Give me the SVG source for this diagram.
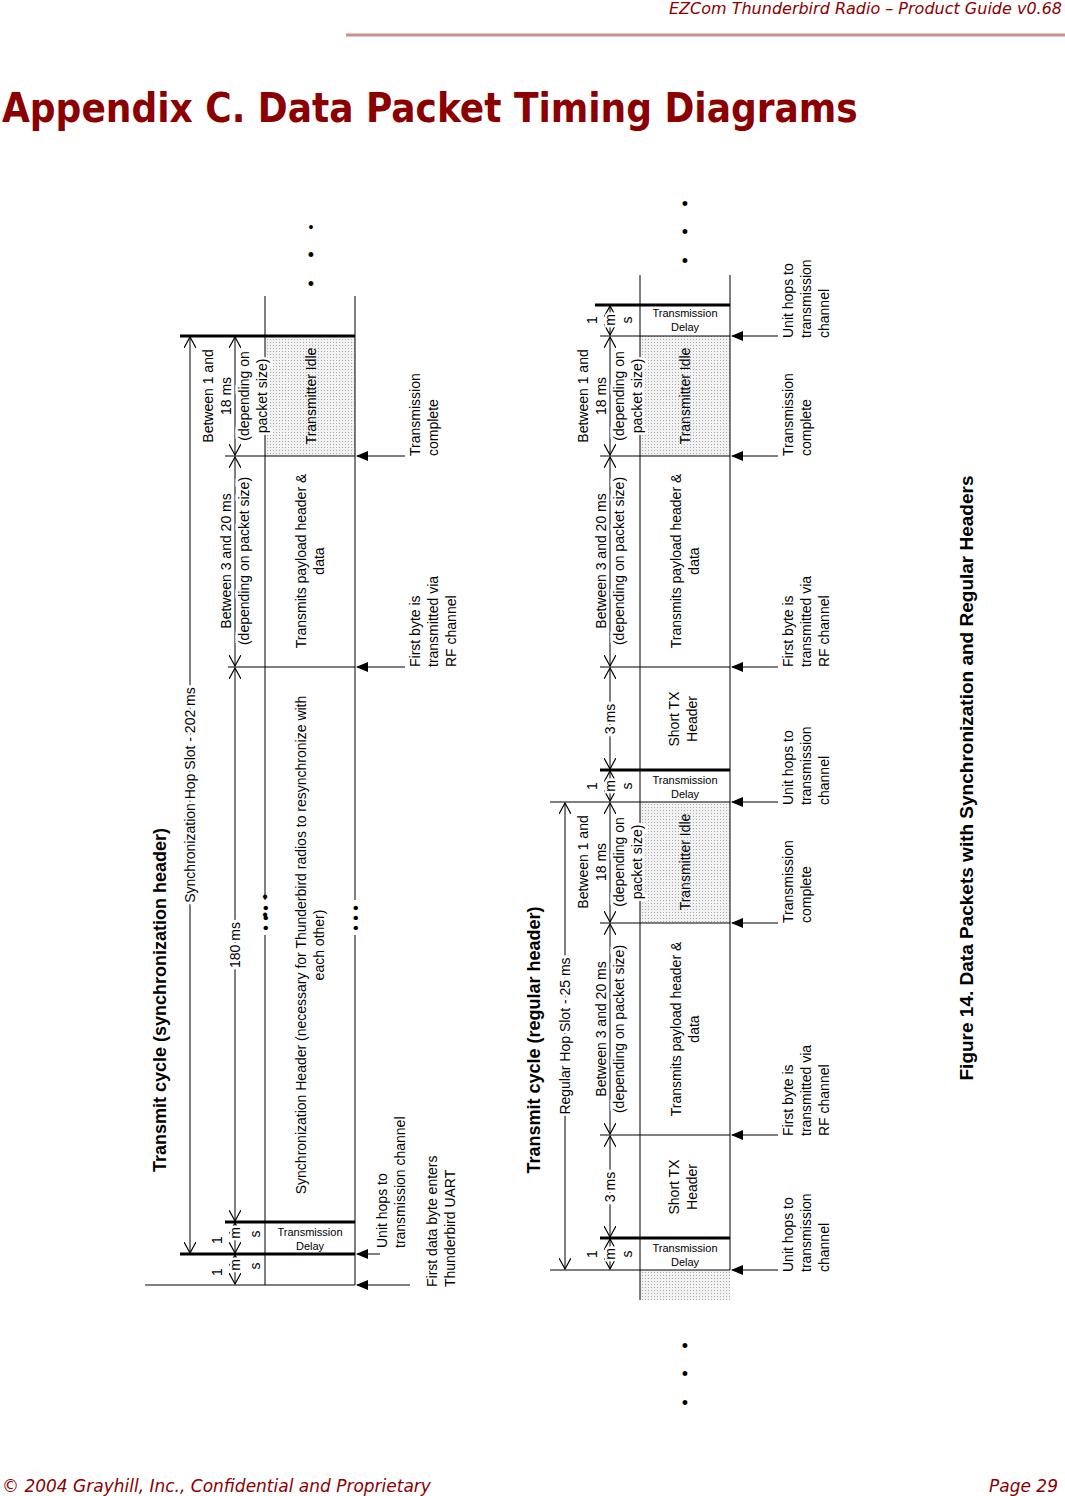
<svg xmlns="http://www.w3.org/2000/svg" width="1065" height="1496" viewBox="0 0 1065 1496">
<defs>
<marker id="oa" viewBox="0 0 12 12" refX="11" refY="6" markerWidth="12" markerHeight="12" markerUnits="userSpaceOnUse" orient="auto-start-reverse"><path d="M0,0 L11,6 L0,12" fill="none" stroke="#000" stroke-width="1.2"/></marker>
<marker id="fa" viewBox="0 0 12 10" refX="11" refY="5" markerWidth="12" markerHeight="10" markerUnits="userSpaceOnUse" orient="auto"><path d="M0,0 L12,5 L0,10 Z" fill="#000"/></marker>
<pattern id="dots" width="3" height="3" patternUnits="userSpaceOnUse"><rect width="3" height="3" fill="#f2f2f2"/><rect width="1" height="1" fill="#aaa"/></pattern>
</defs>
<style>
text{font-family:"Liberation Sans",Arial,sans-serif;fill:#000}
.t{font-size:14px}
.s{font-size:11px}
.w{paint-order:stroke;stroke:#fff;stroke-width:5px}
.ln{stroke:#000;stroke-width:1;fill:none}
.th{stroke:#000;stroke-width:3;fill:none}
.d{stroke:#000;stroke-width:1;marker-start:url(#oa);marker-end:url(#oa)}
.ar{stroke:#000;stroke-width:1;marker-end:url(#fa)}
.hd{font-family:"DejaVu Sans",sans-serif;fill:#8b0000}
</style>
<rect width="1065" height="1496" fill="#fff"/>
<g id="header">
<text class="hd" x="1062" y="14" font-size="16" font-style="italic" text-anchor="end">EZCom Thunderbird Radio – Product Guide v0.68</text>
<line x1="346" y1="35" x2="1065" y2="35" stroke="#c89090" stroke-width="3"/>
<text class="hd" x="2" y="122" font-size="40" font-weight="bold" font-family="'DejaVu Sans Condensed',sans-serif" style="font-family:'DejaVu Sans Condensed','DejaVu Sans',sans-serif">Appendix C.   Data Packet Timing Diagrams</text>
</g>
<g id="footer">
<text class="hd" x="2" y="1492" font-size="17" font-style="italic">© 2004 Grayhill, Inc., Confidential and Proprietary</text>
<text class="hd" x="1058" y="1492" font-size="17" font-style="italic" text-anchor="end">Page 29</text>
</g>

<!-- LEFT DIAGRAM -->
<g id="left-boxes">
<rect x="265" y="336" width="90" height="120" fill="url(#dots)"/>
<line class="ln" x1="265" y1="296" x2="265" y2="900"/>
<line class="ln" x1="265" y1="935" x2="265" y2="1285"/>
<line class="ln" x1="355" y1="296" x2="355" y2="900"/>
<line class="ln" x1="355" y1="935" x2="355" y2="1285"/>
<line class="ln" x1="145" y1="1285" x2="355" y2="1285"/>
<line class="th" x1="180" y1="1254" x2="355" y2="1254"/>
<line class="th" x1="225" y1="1222" x2="355" y2="1222"/>
<line class="ln" x1="228" y1="667" x2="355" y2="667"/>
<line class="ln" x1="225" y1="456" x2="355" y2="456"/>
<line class="th" x1="180" y1="336" x2="355" y2="336"/>
<g font-size="16"><text x="265" y="920" text-anchor="middle">•</text><text x="265" y="902" text-anchor="middle" dy="0">•</text></g>
</g>
<g id="left-text">
<text x="167" y="1000" font-size="18" font-weight="bold" transform="rotate(-90 160 1000)" text-anchor="middle"><tspan x="160" y="1006">Transmit cycle (synchronization header)</tspan></text>
<text class="s" x="310" y="1236" text-anchor="middle">Transmission</text>
<text class="s" x="310" y="1250" text-anchor="middle">Delay</text>
<text class="t" text-anchor="middle" transform="translate(306,945) rotate(-90)"><tspan x="0" y="0">Synchronization Header (necessary for Thunderbird radios to resynchronize with</tspan><tspan x="0" y="18">each other)</tspan></text>
<text class="t" text-anchor="middle" transform="translate(306,561) rotate(-90)"><tspan x="0" y="0">Transmits payload header &amp;</tspan><tspan x="0" y="18">data</tspan></text>
<text class="t" text-anchor="middle" transform="translate(316,396) rotate(-90)">Transmitter Idle</text>
<text class="t" transform="translate(387,1248) rotate(-90)"><tspan x="0" y="0">Unit hops to</tspan><tspan x="0" y="18">transmission channel</tspan></text>
<text class="t" transform="translate(437,1287) rotate(-90)"><tspan x="0" y="0">First data byte enters</tspan><tspan x="0" y="18">Thunderbird UART</tspan></text>
<text class="t" transform="translate(420,667) rotate(-90)"><tspan x="0" y="0">First byte is</tspan><tspan x="0" y="18">transmitted via</tspan><tspan x="0" y="36">RF channel</tspan></text>
<text class="t" transform="translate(420,456) rotate(-90)"><tspan x="0" y="0">Transmission</tspan><tspan x="0" y="18">complete</tspan></text>
<text class="t" x="311" y="232" font-size="18" text-anchor="middle">•</text>
<text x="311" y="261" font-size="18" text-anchor="middle">•</text>
<text x="311" y="290" font-size="18" text-anchor="middle">•</text>
<text x="265" y="924" font-size="16" text-anchor="middle" transform="rotate(-90 265 918)">• • •</text>
<text x="355" y="924" font-size="16" text-anchor="middle" transform="rotate(-90 355 918)">• • •</text>
</g>
<g id="left-dims">
<line class="d" x1="190" y1="337" x2="190" y2="1253"/>
<line class="d" x1="235" y1="1255" x2="235" y2="1284"/>
<line class="d" x1="235" y1="1223" x2="235" y2="1253"/>
<line class="d" x1="235" y1="668" x2="235" y2="1221"/>
<line class="d" x1="235" y1="457" x2="235" y2="666"/>
<line class="d" x1="235" y1="337" x2="235" y2="455"/>
<text class="t w" text-anchor="middle" transform="translate(195,795) rotate(-90)">Synchronization Hop Slot - 202 ms</text>
<text class="t w" text-anchor="middle" transform="translate(240,945) rotate(-90)">180 ms</text>
<text class="t w" text-anchor="middle" transform="translate(231,561) rotate(-90)"><tspan x="0" y="0">Between 3 and 20 ms</tspan><tspan x="0" y="18">(depending on packet size)</tspan></text>
<text class="t w" text-anchor="middle" transform="translate(213,396) rotate(-90)"><tspan x="0" y="0">Between 1 and</tspan><tspan x="0" y="18">18 ms</tspan><tspan x="0" y="36">(depending on</tspan><tspan x="0" y="54">packet size)</tspan></text>
<text class="t" x="217" y="1245" text-anchor="middle" transform="rotate(-90 217 1240)">1</text>
<text class="t" x="217" y="1277" text-anchor="middle" transform="rotate(-90 217 1272)">1</text>
<text class="t w" x="240" y="1243" text-anchor="middle" transform="rotate(-90 235 1238)">m</text>
<text class="t w" x="240" y="1275" text-anchor="middle" transform="rotate(-90 235 1270)">m</text>
<text class="t" x="259" y="1243" text-anchor="middle" transform="rotate(-90 255 1238)">s</text>
<text class="t" x="259" y="1275" text-anchor="middle" transform="rotate(-90 255 1270)">s</text>
</g>
<g id="left-connectors">
<line class="ar" x1="410" y1="1285" x2="357" y2="1285"/>
<line class="ar" x1="380" y1="1254" x2="357" y2="1254"/>
<line class="ar" x1="405" y1="667" x2="357" y2="667"/>
<line class="ar" x1="405" y1="456" x2="357" y2="456"/>
</g>

<!-- RIGHT DIAGRAM -->
<g id="right-boxes">
<rect x="640" y="336" width="90" height="120" fill="url(#dots)"/>
<rect x="640" y="802" width="90" height="121" fill="url(#dots)"/>
<rect x="640" y="1270" width="90" height="30" fill="url(#dots)"/>
<line class="ln" x1="640" y1="275" x2="640" y2="1300"/>
<line class="ln" x1="730" y1="275" x2="730" y2="1270"/>
<line class="ln" x1="550" y1="1270" x2="730" y2="1270"/>
<line class="th" x1="600" y1="1238" x2="730" y2="1238"/>
<line class="ln" x1="600" y1="1135" x2="730" y2="1135"/>
<line class="ln" x1="600" y1="923" x2="730" y2="923"/>
<line class="ln" x1="550" y1="802" x2="730" y2="802"/>
<line class="th" x1="600" y1="770" x2="730" y2="770"/>
<line class="ln" x1="600" y1="667" x2="730" y2="667"/>
<line class="ln" x1="600" y1="456" x2="730" y2="456"/>
<line class="ln" x1="600" y1="336" x2="730" y2="336"/>
<line class="th" x1="595" y1="305" x2="730" y2="305"/>
</g>
<g id="right-text">
<text font-size="18" font-weight="bold" text-anchor="middle" transform="translate(540,1040) rotate(-90)">Transmit cycle (regular header)</text>
<text class="s" x="685" y="1252" text-anchor="middle">Transmission</text>
<text class="s" x="685" y="1266" text-anchor="middle">Delay</text>
<text class="s" x="685" y="784" text-anchor="middle">Transmission</text>
<text class="s" x="685" y="798" text-anchor="middle">Delay</text>
<text class="s" x="685" y="317" text-anchor="middle">Transmission</text>
<text class="s" x="685" y="331" text-anchor="middle">Delay</text>
<text class="t" text-anchor="middle" transform="translate(679,1187) rotate(-90)"><tspan x="0" y="0">Short TX</tspan><tspan x="0" y="18">Header</tspan></text>
<text class="t" text-anchor="middle" transform="translate(679,719) rotate(-90)"><tspan x="0" y="0">Short TX</tspan><tspan x="0" y="18">Header</tspan></text>
<text class="t" text-anchor="middle" transform="translate(681,1029) rotate(-90)"><tspan x="0" y="0">Transmits payload header &amp;</tspan><tspan x="0" y="18">data</tspan></text>
<text class="t" text-anchor="middle" transform="translate(681,561) rotate(-90)"><tspan x="0" y="0">Transmits payload header &amp;</tspan><tspan x="0" y="18">data</tspan></text>
<text class="t" text-anchor="middle" transform="translate(690,862) rotate(-90)">Transmitter Idle</text>
<text class="t" text-anchor="middle" transform="translate(690,396) rotate(-90)">Transmitter Idle</text>
<text class="t" transform="translate(793,1272) rotate(-90)"><tspan x="0" y="0">Unit hops to</tspan><tspan x="0" y="18">transmission</tspan><tspan x="0" y="36">channel</tspan></text>
<text class="t" transform="translate(793,1136) rotate(-90)"><tspan x="0" y="0">First byte is</tspan><tspan x="0" y="18">transmitted via</tspan><tspan x="0" y="36">RF channel</tspan></text>
<text class="t" transform="translate(793,923) rotate(-90)"><tspan x="0" y="0">Transmission</tspan><tspan x="0" y="18">complete</tspan></text>
<text class="t" transform="translate(793,805) rotate(-90)"><tspan x="0" y="0">Unit hops to</tspan><tspan x="0" y="18">transmission</tspan><tspan x="0" y="36">channel</tspan></text>
<text class="t" transform="translate(793,667) rotate(-90)"><tspan x="0" y="0">First byte is</tspan><tspan x="0" y="18">transmitted via</tspan><tspan x="0" y="36">RF channel</tspan></text>
<text class="t" transform="translate(793,456) rotate(-90)"><tspan x="0" y="0">Transmission</tspan><tspan x="0" y="18">complete</tspan></text>
<text class="t" transform="translate(793,338) rotate(-90)"><tspan x="0" y="0">Unit hops to</tspan><tspan x="0" y="18">transmission</tspan><tspan x="0" y="36">channel</tspan></text>
<text x="685" y="210" font-size="18" text-anchor="middle">•</text>
<text x="685" y="238" font-size="18" text-anchor="middle">•</text>
<text x="685" y="267" font-size="18" text-anchor="middle">•</text>
<text x="685" y="1352" font-size="18" text-anchor="middle">•</text>
<text x="685" y="1380" font-size="18" text-anchor="middle">•</text>
<text x="685" y="1409" font-size="18" text-anchor="middle">•</text>
</g>
<g id="right-dims">
<line class="d" x1="565" y1="803" x2="565" y2="1269"/>
<line class="d" x1="610" y1="1239" x2="610" y2="1269"/>
<line class="d" x1="610" y1="1136" x2="610" y2="1237"/>
<line class="d" x1="610" y1="924" x2="610" y2="1134"/>
<line class="d" x1="610" y1="803" x2="610" y2="922"/>
<line class="d" x1="610" y1="771" x2="610" y2="801"/>
<line class="d" x1="610" y1="668" x2="610" y2="769"/>
<line class="d" x1="610" y1="457" x2="610" y2="666"/>
<line class="d" x1="610" y1="337" x2="610" y2="455"/>
<line class="d" x1="610" y1="306" x2="610" y2="335"/>
<text class="t w" text-anchor="middle" transform="translate(570,1036) rotate(-90)">Regular Hop Slot - 25 ms</text>
<text class="t w" text-anchor="middle" transform="translate(615,1187) rotate(-90)">3 ms</text>
<text class="t w" text-anchor="middle" transform="translate(615,719) rotate(-90)">3 ms</text>
<text class="t w" text-anchor="middle" transform="translate(606,1029) rotate(-90)"><tspan x="0" y="0">Between 3 and 20 ms</tspan><tspan x="0" y="18">(depending on packet size)</tspan></text>
<text class="t w" text-anchor="middle" transform="translate(606,561) rotate(-90)"><tspan x="0" y="0">Between 3 and 20 ms</tspan><tspan x="0" y="18">(depending on packet size)</tspan></text>
<text class="t w" text-anchor="middle" transform="translate(588,862) rotate(-90)"><tspan x="0" y="0">Between 1 and</tspan><tspan x="0" y="18">18 ms</tspan><tspan x="0" y="36">(depending on</tspan><tspan x="0" y="54">packet size)</tspan></text>
<text class="t w" text-anchor="middle" transform="translate(588,396) rotate(-90)"><tspan x="0" y="0">Between 1 and</tspan><tspan x="0" y="18">18 ms</tspan><tspan x="0" y="36">(depending on</tspan><tspan x="0" y="54">packet size)</tspan></text>
<text class="t" text-anchor="middle" transform="translate(597,1254) rotate(-90)">1</text>
<text class="t w" text-anchor="middle" transform="translate(615,1254) rotate(-90)">m</text>
<text class="t" text-anchor="middle" transform="translate(632,1254) rotate(-90)">s</text>
<text class="t" text-anchor="middle" transform="translate(597,786) rotate(-90)">1</text>
<text class="t w" text-anchor="middle" transform="translate(615,786) rotate(-90)">m</text>
<text class="t" text-anchor="middle" transform="translate(632,786) rotate(-90)">s</text>
<text class="t" text-anchor="middle" transform="translate(597,320) rotate(-90)">1</text>
<text class="t w" text-anchor="middle" transform="translate(615,320) rotate(-90)">m</text>
<text class="t" text-anchor="middle" transform="translate(632,320) rotate(-90)">s</text>
</g>
<g id="right-connectors">
<line class="ar" x1="778" y1="1270" x2="732" y2="1270"/>
<line class="ar" x1="778" y1="1135" x2="732" y2="1135"/>
<line class="ar" x1="778" y1="923" x2="732" y2="923"/>
<line class="ar" x1="778" y1="802" x2="732" y2="802"/>
<line class="ar" x1="778" y1="667" x2="732" y2="667"/>
<line class="ar" x1="778" y1="456" x2="732" y2="456"/>
<line class="ar" x1="778" y1="336" x2="732" y2="336"/>
</g>
<g id="caption">
<text font-family="'Liberation Serif',serif" font-size="19" font-weight="bold" text-anchor="middle" transform="translate(973,778) rotate(-90)">Figure 14.  Data Packets with Synchronization and Regular Headers</text>
</g>
</svg>
